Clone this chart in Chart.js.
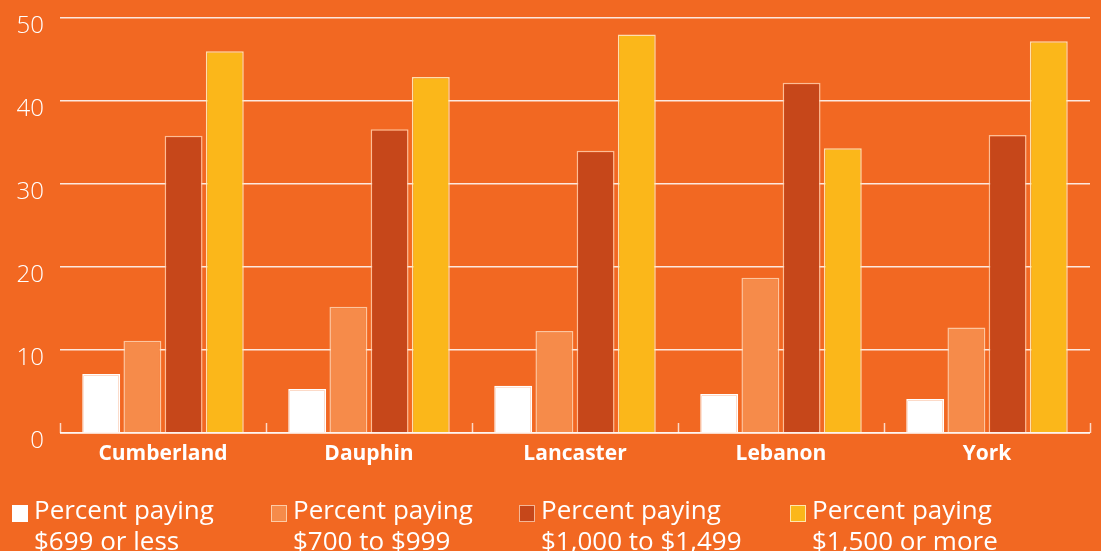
<!DOCTYPE html>
<html><head><meta charset="utf-8">
<script src="https://cdn.jsdelivr.net/npm/chart.js@4/dist/chart.umd.min.js"></script>
<style>
html,body{margin:0;padding:0;background:#F26822;width:1101px;height:551px;overflow:hidden;}
#wrap{position:absolute;left:0;top:0;width:1101px;height:470px;}
#legend{position:absolute;left:0;top:0;width:1101px;height:551px;pointer-events:none;font-family:"Open Sans",sans-serif;color:#fff;}
.item{position:absolute;top:495px;}
.box{position:absolute;top:10px;left:0;width:16px;height:17px;box-sizing:border-box;}
.txt{position:absolute;left:22px;top:-1px;font-size:26px;line-height:31px;white-space:nowrap;font-weight:400;}
</style></head>
<body>
<div id="wrap"><canvas id="c"></canvas></div>
<div id="legend"></div>
<script>
const categories = ["Cumberland","Dauphin","Lancaster","Lebanon","York"];
const seriesNames = [["Percent paying","$699 or less"],["Percent paying","$700 to $999"],["Percent paying","$1,000 to $1,499"],["Percent paying","$1,500 or more"]];
const under700 = [7.1, 5.3, 5.7, 4.7, 4.1];
const from700to999 = [11.1, 15.2, 12.3, 18.7, 12.7];
const from1000to1499 = [35.8, 36.6, 34.0, 42.2, 35.9];
const over1500 = [46.0, 42.9, 48.0, 34.3, 47.2];
const yTicks = [0,10,20,30,40,50];

const colors = ["#FFFFFF","#F68B4A","#C6471A","#FBB71A"];
const borders = ["rgba(255,255,255,1)","rgba(255,220,190,0.8)","rgba(255,210,180,0.8)","rgba(255,235,190,0.9)"];
const legendX = [12, 271, 519, 790];
const allData = [under700, from700to999, from1000to1499, over1500];

const boundaryTicks = {
  id:'boundaryTicks',
  afterDatasetsDraw(chart){
    const x = chart.scales.x, ctx = chart.ctx;
    const n = chart.data.labels.length;
    const w = (x.right - x.left)/n;
    ctx.save();
    ctx.strokeStyle = 'rgba(255,255,255,0.75)';
    ctx.lineWidth = 1.5;
    for(let i=0;i<=n;i++){
      const px = Math.round(x.left + i*w)+0.5;
      ctx.beginPath(); ctx.moveTo(px, x.top); ctx.lineTo(px, x.top-10); ctx.stroke();
    }
    ctx.beginPath(); ctx.moveTo(x.left, x.top); ctx.lineTo(x.right, x.top); ctx.stroke();
    ctx.restore();
  }
};

new Chart(document.getElementById('c'), {
  type:'bar',
  data:{
    labels: categories,
    datasets: allData.map((d,i)=>({
      label: seriesNames[i].join(' '),
      data: d,
      backgroundColor: colors[i],
      borderColor: borders[i],
      borderWidth: 1.5,
      categoryPercentage: 0.8,
      barPercentage: 0.92
    }))
  },
  options:{
    responsive:true, maintainAspectRatio:false, animation:false,
    layout:{padding:{left:0,right:11,top:18,bottom:0}},
    plugins:{legend:{display:false}, tooltip:{enabled:false}},
    scales:{
      x:{
        grid:{display:false},
        border:{display:false},
        ticks:{color:'#fff', padding:0, font:{family:'"Open Sans", sans-serif', size:21, weight:'bold'}},
        afterFit(s){ s.height = 37; s.paddingLeft = 0; s.paddingRight = 0; }
      },
      y:{
        min:0, max:50,
        afterBuildTicks(s){ s.ticks = yTicks.map(v=>({value:v})); },
        grid:{color:'rgba(255,255,255,0.85)', lineWidth:1.5, drawTicks:false},
        border:{display:false},
        ticks:{color:'#fff', padding:16, labelOffset:8, font:{family:'"Open Sans", sans-serif', size:24, weight:'300'}},
        afterFit(s){ s.width = 60; s.paddingTop = 0; s.paddingBottom = 0; }
      }
    }
  },
  plugins:[boundaryTicks]
});

const lg = document.getElementById('legend');
seriesNames.forEach((n,i)=>{
  const it = document.createElement('div'); it.className='item'; it.style.left = legendX[i]+'px';
  const b = document.createElement('div'); b.className='box'; b.style.background = colors[i];
  b.style.border = i===0 ? 'none' : '1px solid '+borders[i];
  const t = document.createElement('div'); t.className='txt'; t.innerHTML = n[0]+'<br>'+n[1];
  it.appendChild(b); it.appendChild(t); lg.appendChild(it);
});
</script>
</body></html>
